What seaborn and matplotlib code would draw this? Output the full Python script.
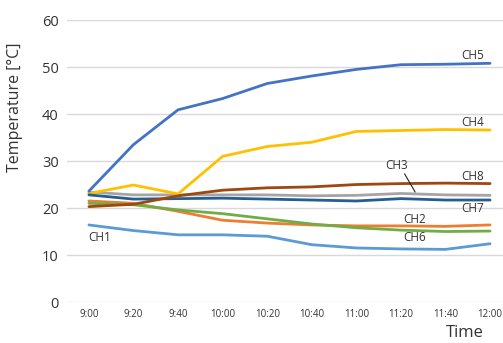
import matplotlib
matplotlib.use('Agg')
import matplotlib.pyplot as plt
import seaborn as sns
import pandas as pd

# ── Data ──────────────────────────────────────────────────────────────────────
times = ["9:00", "9:20", "9:40", "10:00", "10:20", "10:40", "11:00", "11:20", "11:40", "12:00"]
channels = ["CH1", "CH2", "CH3", "CH4", "CH5", "CH6", "CH7", "CH8"]

ch1 = [16.4, 15.2, 14.3, 14.3, 14.0, 12.2, 11.5, 11.3, 11.2, 12.4]
ch2 = [21.5, 21.0, 19.3, 17.4, 16.8, 16.4, 16.2, 16.2, 16.1, 16.4]
ch3 = [23.4, 22.8, 22.8, 22.8, 22.8, 22.6, 22.7, 23.1, 22.8, 22.7]
ch4 = [23.1, 24.9, 23.0, 31.0, 33.1, 34.0, 36.3, 36.5, 36.7, 36.6]
ch5 = [23.6, 33.5, 40.9, 43.3, 46.5, 48.1, 49.5, 50.5, 50.6, 50.8]
ch6 = [21.0, 20.7, 19.6, 18.8, 17.7, 16.6, 15.8, 15.3, 15.0, 15.1]
ch7 = [22.8, 21.9, 22.0, 22.1, 21.9, 21.7, 21.5, 22.0, 21.7, 21.7]
ch8 = [20.3, 20.8, 22.6, 23.8, 24.3, 24.5, 25.0, 25.2, 25.3, 25.2]

colors = ["#5B9BD5", "#ED7D31", "#A5A5A5", "#FFC000",
          "#4472C4", "#70AD47", "#255E91", "#9E480E"]

series = [ch1, ch2, ch3, ch4, ch5, ch6, ch7, ch8]
df = pd.concat([
    pd.DataFrame({"t": range(len(times)), "temp": vals, "ch": name})
    for name, vals in zip(channels, series)
], ignore_index=True)

# ── Plot ──────────────────────────────────────────────────────────────────────
sns.set_style("white")
plt.rcParams["font.family"] = ["Open Sans", "DejaVu Sans"]

fig = plt.figure(figsize=(5.03, 3.43), dpi=100)
ax = fig.add_axes([0.133, 0.1195, 0.867, 0.822])

sns.lineplot(data=df, x="t", y="temp", hue="ch", palette=colors,
             linewidth=2, legend=False, ax=ax, zorder=3)

ax.set_ylim(0, 60)
ax.set_yticks(range(0, 61, 10))
ax.set_xlim(-0.494, 9.29)
ax.set_xticks(range(len(times)))
ax.set_xticklabels(times, fontsize=7, color="#333333")
ax.tick_params(axis="y", labelsize=10.5, labelcolor="#333333", length=0, pad=6)
ax.tick_params(axis="x", length=0, pad=5)
ax.grid(axis="y", color="#D9D9D9", linewidth=1)
ax.set_axisbelow(True)
for spine in ax.spines.values():
    spine.set_visible(False)

ax.set_xlabel("")
ax.set_ylabel("Temperature [°C]", fontsize=11.5, color="#333333")
ax.yaxis.set_label_coords(-0.101, 0.69)
fig.text(465 / 503, 1 - 333 / 343, "Time", fontsize=12, color="#333333",
         ha="center", va="center")

# channel labels
label_pos = {
    "CH5": (8.6, 52.5), "CH4": (8.6, 38.3), "CH3": (6.9, 29.0),
    "CH8": (8.6, 26.8), "CH7": (8.6, 19.8), "CH2": (7.3, 17.5),
    "CH6": (7.3, 13.8), "CH1": (0.25, 13.8),
}
for name, (x, y) in label_pos.items():
    ax.text(x, y, name, fontsize=8.5, color="#333333", ha="center", va="center")
ax.annotate("", xy=(7.35, 22.9), xytext=(7.05, 27.8),
            arrowprops=dict(arrowstyle="-", color="#222222", linewidth=0.8))

fig.savefig("out.png", dpi=100)
